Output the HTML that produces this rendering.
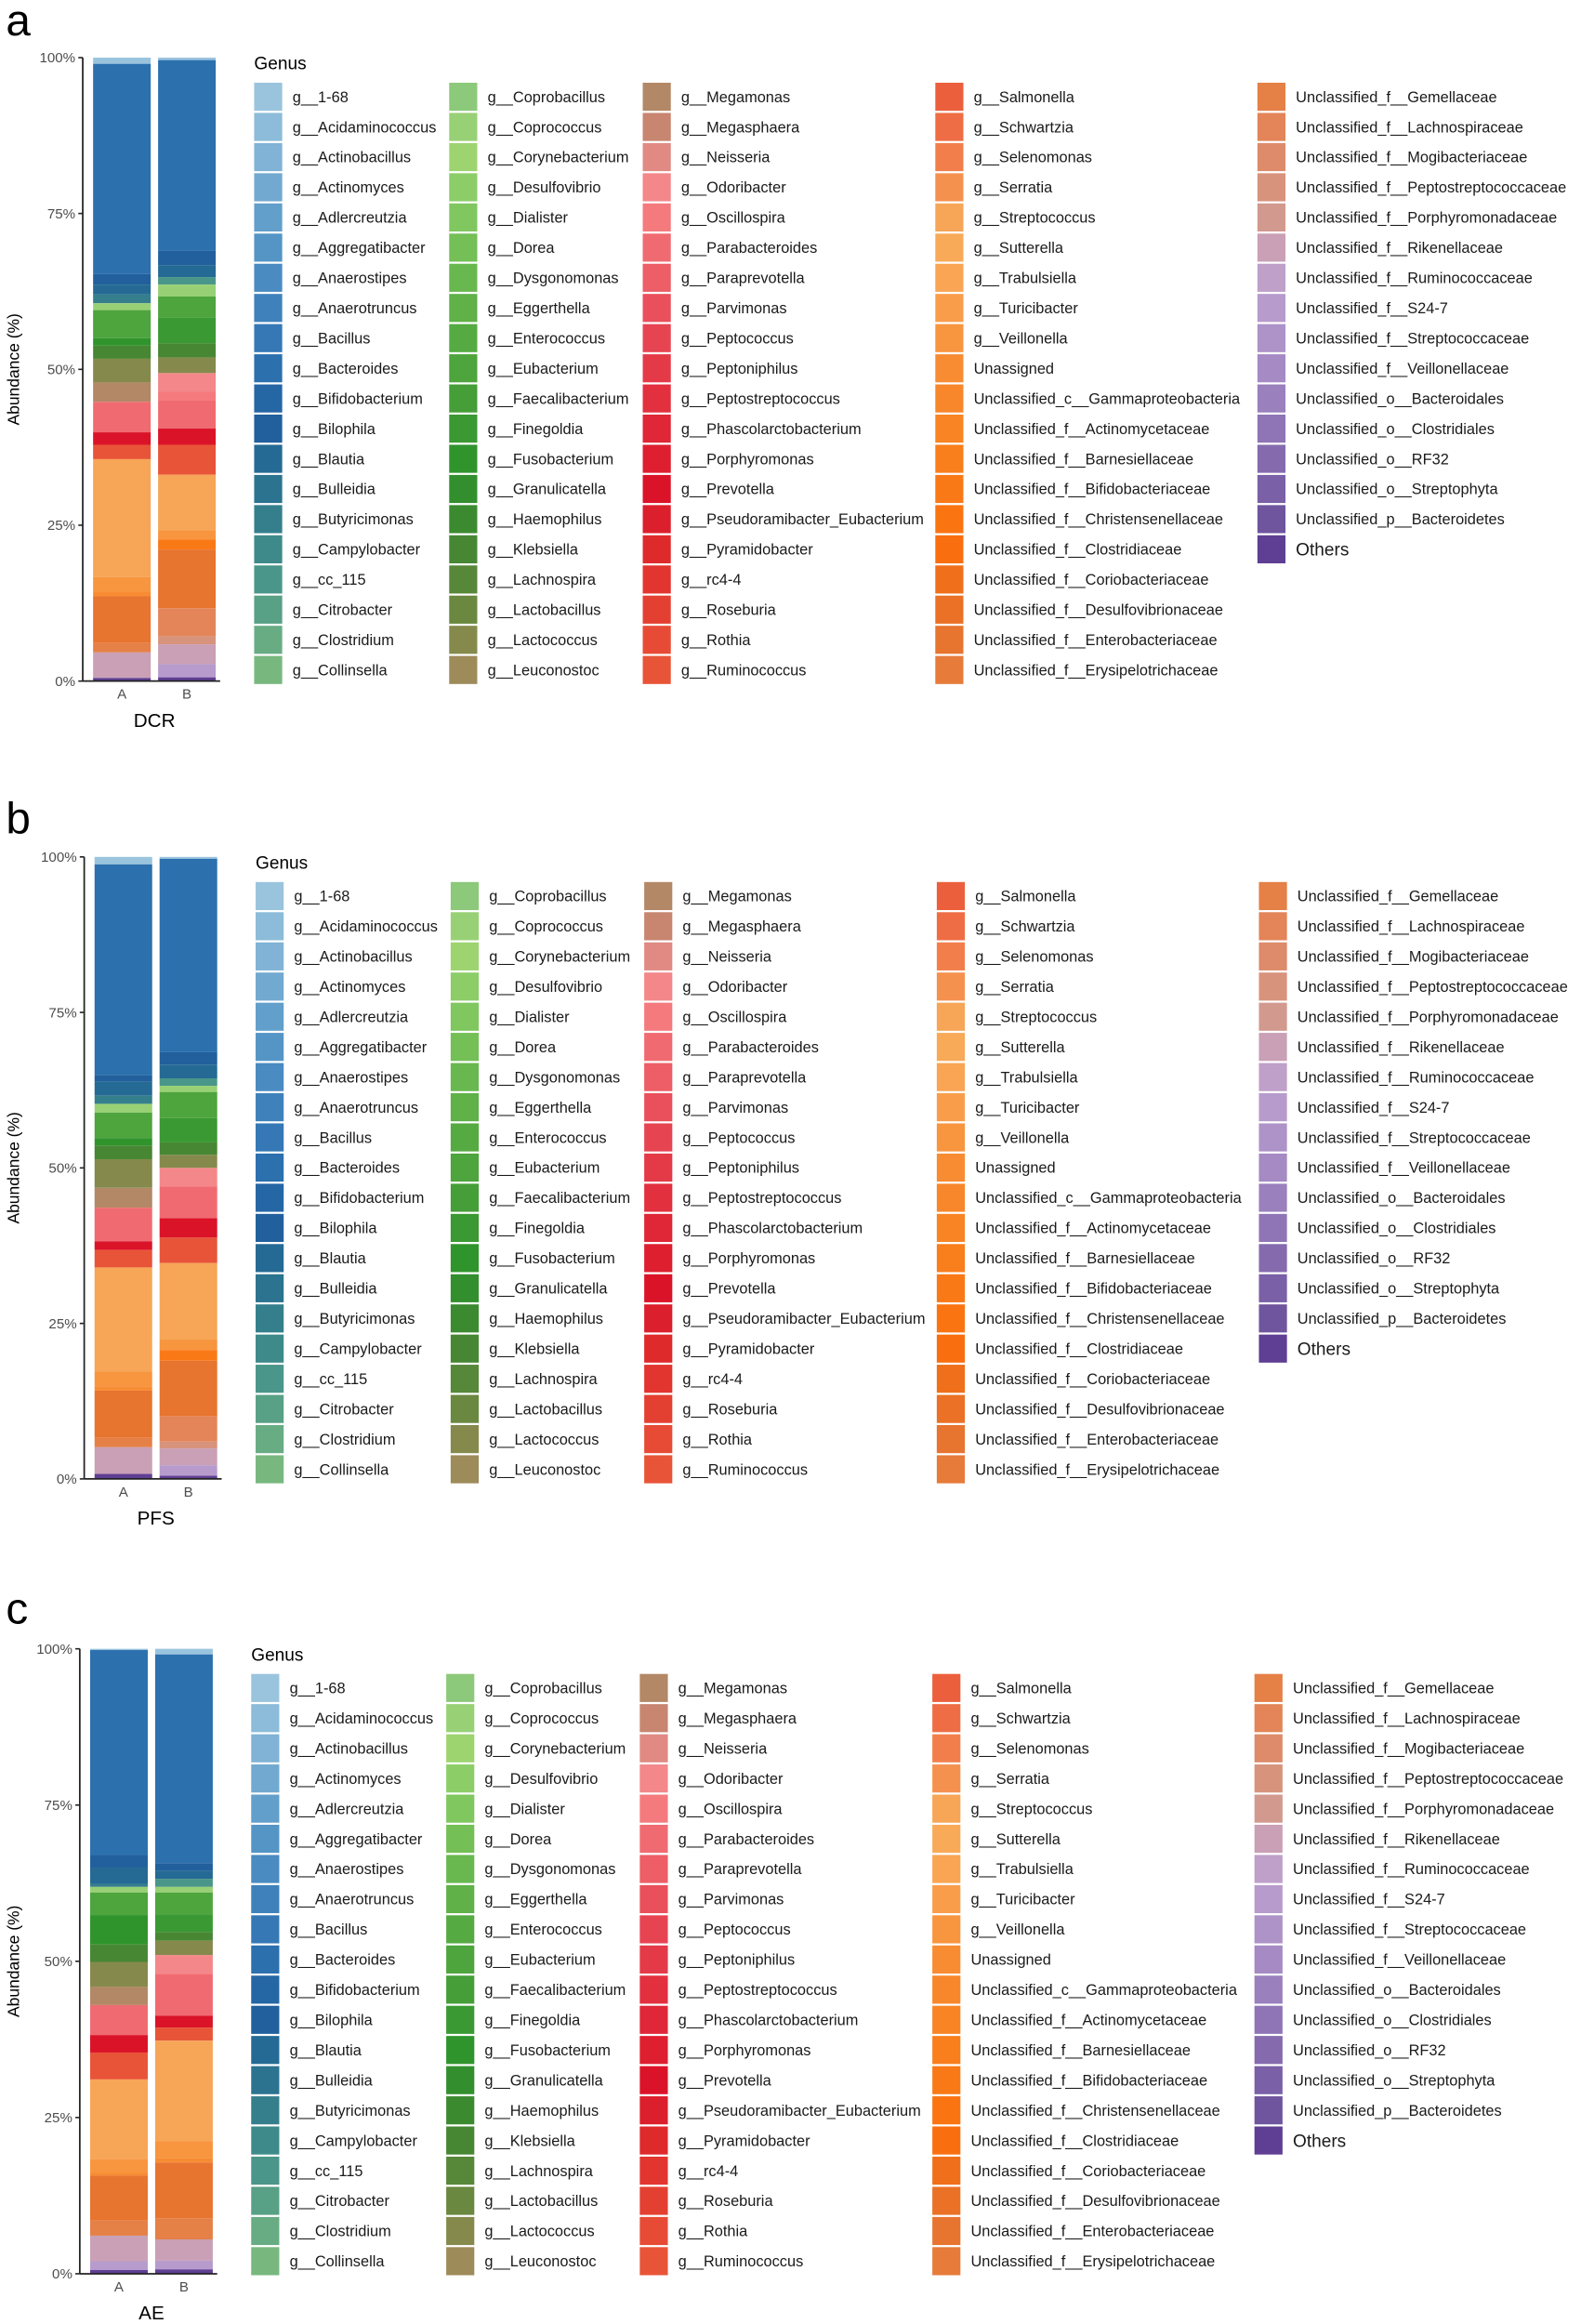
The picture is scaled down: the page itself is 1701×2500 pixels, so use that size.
<!DOCTYPE html>
<html><head><meta charset="utf-8">
<style>
html,body{margin:0;padding:0;background:#fff;}
svg{display:block;font-family:"Liberation Sans",Arial,sans-serif;}
</style></head>
<body>
<svg id="fig" width="1701" height="2500" viewBox="0 0 1070 1573" preserveAspectRatio="none" xmlns="http://www.w3.org/2000/svg"></svg>
<script>
const genus = ["g__1-68","g__Acidaminococcus","g__Actinobacillus","g__Actinomyces","g__Adlercreutzia","g__Aggregatibacter","g__Anaerostipes","g__Anaerotruncus","g__Bacillus","g__Bacteroides","g__Bifidobacterium","g__Bilophila","g__Blautia","g__Bulleidia","g__Butyricimonas","g__Campylobacter","g__cc_115","g__Citrobacter","g__Clostridium","g__Collinsella",
"g__Coprobacillus","g__Coprococcus","g__Corynebacterium","g__Desulfovibrio","g__Dialister","g__Dorea","g__Dysgonomonas","g__Eggerthella","g__Enterococcus","g__Eubacterium","g__Faecalibacterium","g__Finegoldia","g__Fusobacterium","g__Granulicatella","g__Haemophilus","g__Klebsiella","g__Lachnospira","g__Lactobacillus","g__Lactococcus","g__Leuconostoc",
"g__Megamonas","g__Megasphaera","g__Neisseria","g__Odoribacter","g__Oscillospira","g__Parabacteroides","g__Paraprevotella","g__Parvimonas","g__Peptococcus","g__Peptoniphilus","g__Peptostreptococcus","g__Phascolarctobacterium","g__Porphyromonas","g__Prevotella","g__Pseudoramibacter_Eubacterium","g__Pyramidobacter","g__rc4-4","g__Roseburia","g__Rothia","g__Ruminococcus",
"g__Salmonella","g__Schwartzia","g__Selenomonas","g__Serratia","g__Streptococcus","g__Sutterella","g__Trabulsiella","g__Turicibacter","g__Veillonella","Unassigned","Unclassified_c__Gammaproteobacteria","Unclassified_f__Actinomycetaceae","Unclassified_f__Barnesiellaceae","Unclassified_f__Bifidobacteriaceae","Unclassified_f__Christensenellaceae","Unclassified_f__Clostridiaceae","Unclassified_f__Coriobacteriaceae","Unclassified_f__Desulfovibrionaceae","Unclassified_f__Enterobacteriaceae","Unclassified_f__Erysipelotrichaceae",
"Unclassified_f__Gemellaceae","Unclassified_f__Lachnospiraceae","Unclassified_f__Mogibacteriaceae","Unclassified_f__Peptostreptococcaceae","Unclassified_f__Porphyromonadaceae","Unclassified_f__Rikenellaceae","Unclassified_f__Ruminococcaceae","Unclassified_f__S24-7","Unclassified_f__Streptococcaceae","Unclassified_f__Veillonellaceae","Unclassified_o__Bacteroidales","Unclassified_o__Clostridiales","Unclassified_o__RF32","Unclassified_o__Streptophyta","Unclassified_p__Bacteroidetes","Others"];
const colors = ["#9ac4de","#8cbcd9","#80b3d5","#72a9d0","#629fcb","#5595c6","#4a8bc1","#3f82bb","#3578b5","#2c70ae","#2566a5","#21609c","#256a94","#2c7390","#357f8d","#3e8a8b","#4a968a","#58a086","#68ac84","#78b87f",
"#8cc97a","#98d175","#9dd470","#8ccd68","#80c75f","#74bf56","#69b84f","#5fb148","#56aa42","#4ea43d","#459e38","#3a9932","#30942c","#338f2e","#3c8a30","#478733","#578738","#6a883f","#858a4c","#9e8b5a",
"#b38866","#c88570","#e08a83","#f3878a","#f47a7e","#f06b71","#ed5e66","#e9505b","#e74452","#e43a48","#e2303f","#df2737","#dd1f30","#db1329","#dc1f2c","#df2a2c","#e2352f","#e44032","#e74b35","#e85438",
"#ec5f3d","#ef6d44","#f27f4b","#f5914f","#f7a556","#f8aa58","#f9a553","#f99d4b","#f8953f","#f88c33","#f8872b","#f88424","#f97e1c","#fa7917","#fb7412","#f96f10","#f06f1a","#ea7125","#e7742f","#e67b3a",
"#e58047","#e38558","#dd8b6a","#d8937c","#d2998f","#c9a0b5","#bfa0c9","#b79bcc","#ad93c8","#a58ac4","#9a80bd","#8f75b6","#856bae","#7a60a6","#6f559e","#5f3f93"];

// stacked categories (subset, top-to-bottom legend order) and per-bar values (%)
const stackCats = ["g__1-68","g__Bacteroides","g__Bilophila","g__Blautia","g__Butyricimonas","g__cc_115","g__Coprococcus","g__Eubacterium","g__Finegoldia","g__Fusobacterium","g__Klebsiella","g__Lactococcus","g__Megamonas","g__Odoribacter","g__Oscillospira","g__Parabacteroides","g__Prevotella","g__Ruminococcus","g__Streptococcus","g__Veillonella","Unassigned","Unclassified_f__Bifidobacteriaceae","Unclassified_f__Enterobacteriaceae","Unclassified_f__Gemellaceae","Unclassified_f__Lachnospiraceae","Unclassified_f__Peptostreptococcaceae","Unclassified_f__Rikenellaceae","Unclassified_f__S24-7","Others"];
const dcrA = [1.0,33.7,1.7,1.6,1.4,0,1.1,4.5,0,1.2,2.1,3.8,3.1,0,0,4.9,2.0,2.3,18.9,2.3,0.8,0,7.5,1.5,0,0,4.1,0,0.4];
const dcrB = [0.4,30.6,2.3,1.9,0,1.2,1.9,3.4,4.1,0,2.3,2.5,0,3.0,1.3,4.6,2.6,4.8,8.9,1.5,0,1.6,9.4,0,4.5,1.3,3.2,2.1,0.6];
const pfsA = [1.2,33.9,1.0,2.3,1.3,0,1.4,4.1,0,1.2,2.2,4.6,3.2,0,0,5.4,1.4,2.8,16.7,2.4,0.7,0,7.6,1.5,0,0,4.3,0,0.8];
const pfsB = [0.3,31.1,2.0,2.2,0,1.2,1.0,4.2,3.9,0,2.0,2.1,0,3.0,0,5.1,3.1,4.1,12.3,1.7,0,1.7,8.9,0,4.1,1.1,2.7,1.7,0.5];
const aeA = [0.2,32.8,2.0,2.6,0.5,0,0.9,3.6,0,4.7,2.8,4.0,2.9,0,0,4.8,2.8,4.3,12.8,2.1,0.5,0,7.2,2.4,0,0,4.1,1.4,0.6];
const aeB = [0.9,33.4,1.2,1.3,0,1.3,0.9,3.5,2.8,0,1.4,2.3,0,3.0,0,6.7,1.9,2.1,16.1,2.7,0.7,0,8.9,3.4,0,0,3.4,1.4,0.7];
const groups = ["A","B"];
const yTicks = [0,25,50,75,100];
const yTickLabels = ["0%","25%","50%","75%","100%"];
const panelLetters = ["a","b","c"];
const panelTitles = ["DCR","PFS","AE"];
const panelSeries = [[dcrA,dcrB],[pfsA,pfsB],[aeA,aeB]];

const NS="http://www.w3.org/2000/svg";
const svg=document.getElementById('fig');
function mk(tag,attrs,parent){const e=document.createElementNS(NS,tag);for(const k in attrs)e.setAttribute(k,attrs[k]);(parent||svg).appendChild(e);return e;}

const layouts=[
 {top:39,bottom:461,axisX:56,barX:[63,107],legX:172,legY:56,letterY:24},
 {top:580,bottom:1001,axisX:57,barX:[64,108],legX:173,legY:597,letterY:564},
 {top:1116,bottom:1539,axisX:54,barX:[61,105],legX:170,legY:1133,letterY:1099}];
const colOff=[0,132,263,461,679];
const barW=39, rowH=20.42, sw=19;

layouts.forEach((L,p)=>{
  const g=mk('g',{});
  
  
  const yScale=v=>L.bottom-(v/100)*(L.bottom-L.top);
  const letter=mk('text',{x:4,y:L.letterY,'font-size':30,fill:'#000'},g);
  letter.textContent=panelLetters[p];
  
  
  panelSeries[p].forEach((vals,bi)=>{
    const bg=mk('g',{},g);
    
    
    let cum=100;
    vals.forEach((v,ci)=>{
      if(v<=0)return;
      const y0=yScale(cum), y1=yScale(cum-v);
      const r=mk('rect',{x:L.barX[bi],y:y0,width:barW,height:Math.max(0.3,y1-y0),fill:colors[genus.indexOf(stackCats[ci])]},bg);
      
      
      cum-=v;
    });
    const xl=mk('text',{x:L.barX[bi]+barW/2,y:L.bottom+12,'font-size':9.5,fill:'#4d4d4d','text-anchor':'middle'},g);
    xl.textContent=groups[bi];
    
    
  });
  const ya=mk('line',{x1:L.axisX,x2:L.axisX,y1:L.top,y2:L.bottom,stroke:'#222','stroke-width':1.1},g);
  
  
  const xa=mk('line',{x1:L.axisX,x2:L.barX[1]+barW+3,y1:L.bottom,y2:L.bottom,stroke:'#222','stroke-width':1.1},g);
  
  
  yTicks.forEach((t,i)=>{
    const y=yScale(t);
    mk('line',{x1:L.axisX-3,x2:L.axisX,y1:y,y2:y,stroke:'#222','stroke-width':1},g);
    const tl=mk('text',{x:L.axisX-5,y:y+3.3,'font-size':9.5,fill:'#4d4d4d','text-anchor':'end'},g);
    tl.textContent=yTickLabels[i];
    
    
  });
  const xt=mk('text',{x:(L.barX[0]+L.barX[1]+barW)/2,y:L.bottom+31,'font-size':13,fill:'#000','text-anchor':'middle'},g);
  xt.textContent=panelTitles[p];
  
  
  const cy=(L.top+L.bottom)/2;
  const yt=mk('text',{x:13,y:cy,'font-size':11,fill:'#000','text-anchor':'middle',transform:'rotate(-90 13 '+cy+')'},g);
  yt.textContent='Abundance (%)';
  
  
  const lg=mk('g',{},g);
  
  
  const lt=mk('text',{x:L.legX,y:L.legY-9,'font-size':12,fill:'#000'},lg);
  lt.textContent='Genus';
  
  
  genus.forEach((name,i)=>{
    const col=Math.floor(i/20), row=i%20;
    const x=L.legX+colOff[col], y=L.legY+row*rowH;
    const e=mk('g',{},lg);
    
    
    mk('rect',{x:x,y:y,width:sw,height:sw,fill:colors[i]},e);
    const t=mk('text',{x:x+26,y:y+sw/2+(name==='Others'?4.2:3.6),'font-size':(name==='Others'?12:10.3),fill:'#1a1a1a'},e);
    t.textContent=name;
  });
});
</script>
</body></html>
